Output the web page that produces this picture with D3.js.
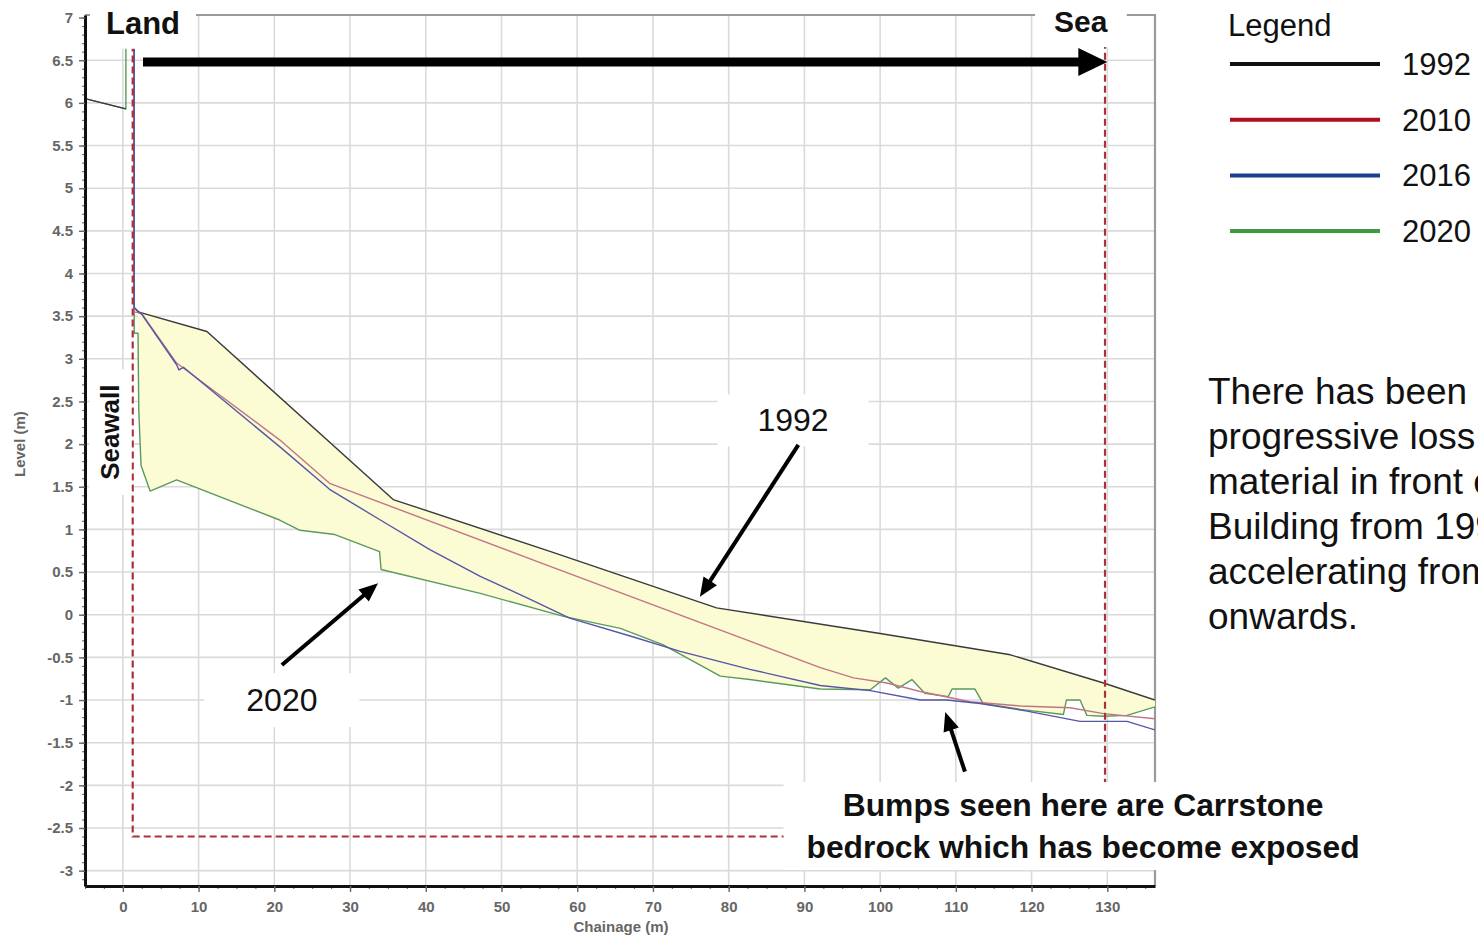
<!DOCTYPE html>
<html>
<head>
<meta charset="utf-8">
<script src="https://cdn.jsdelivr.net/npm/d3@7"></script>
<style>
  html, body { margin: 0; padding: 0; background: #fff; }
  svg { display: block; font-family: Arial, "Liberation Sans", sans-serif; }
</style>
</head>
<body>
<svg id="chart" width="1478" height="937"></svg>
<script>
// Beach profile surveys: [chainage (m), level (m)]; null marks a gap in a survey line
const years = ["1992", "2010", "2016", "2020"];

const profile1992 = [[-5, 6.05], [0.4, 5.93], null,
  [1.5, 7.2], [1.5, 3.6], [2.0, 3.55], [11.1, 3.32], [35.7, 1.35], [56.5, 0.74],
  [78.4, 0.08], [100, -0.22], [117.2, -0.47], [129.5, -0.80], [136.3, -1.0]];

const profile2010 = [[1.5, 7.2], [1.5, 3.55], [2.5, 3.53], [7.1, 2.95], [20.7, 2.05],
  [27.3, 1.54], [55.1, 0.61], [82.8, -0.31], [92.1, -0.62], [96.5, -0.74],
  [100.9, -0.80], [105.3, -0.90], [111.9, -1.02], [118.5, -1.07], [125.1, -1.09],
  [129.5, -1.16], [136.3, -1.22]];

const profile2016 = [[1.5, 7.2], [1.5, 3.6], [2.5, 3.52], [7.1, 2.93], [7.4, 2.87],
  [8.0, 2.9], [20.7, 1.97], [27.3, 1.47], [34, 1.11], [40.6, 0.76], [47.2, 0.45],
  [53.8, 0.18], [59, -0.04], [67, -0.25], [73.6, -0.43], [82.8, -0.64], [92.1, -0.83],
  [98.7, -0.89], [105.3, -1.0], [108.8, -1.0], [113.2, -1.04], [119.4, -1.13],
  [126.4, -1.25], [132.6, -1.25], [136.3, -1.35]];

const profile2020 = [[-5, 6.05], [0.4, 5.93], [0.4, 7.2], [1.5, 7.2], [1.5, 3.3],
  [2.0, 3.3], [2.1, 2.4], [2.4, 1.75], [3.6, 1.45], [7.1, 1.58], [20.7, 1.11],
  [23.4, 0.99], [28, 0.94], [33.9, 0.74], [34.1, 0.53], [47.2, 0.25], [58.2, -0.02],
  [65.7, -0.16], [71.3, -0.35], [78.9, -0.72], [82.8, -0.76], [92.1, -0.87],
  [98.7, -0.88], [100.7, -0.74], [102.4, -0.86], [104.2, -0.76], [105.9, -0.92],
  [109, -0.96], [109.5, -0.87], [112.5, -0.87], [113.6, -1.04], [118.5, -1.11],
  [124.2, -1.17], [124.6, -1.0], [126.4, -1.0], [127.3, -1.18], [129.5, -1.19],
  [132.6, -1.18], [136.3, -1.08]];

// Seawall line and seaward survey limit (dashed outline)
const surveyLimit = [[1.3, 7.2], [1.3, -2.6], [129.7, -2.6], [129.7, 7.2]];

// Axis ticks
const xTickValues = [0, 10, 20, 30, 40, 50, 60, 70, 80, 90, 100, 110, 120, 130];
const yTickValues = [-3, -2.5, -2, -1.5, -1, -0.5, 0, 0.5, 1, 1.5, 2, 2.5, 3, 3.5,
  4, 4.5, 5, 5.5, 6, 6.5, 7];

// Paragraph on the right (runs past the page edge)
const noteLines = ["There has been", "progressive loss", "material in front of",
  "Building from 1992", "accelerating from", "onwards."];

const lineColors = { "1992": "#3a3a3a", "2010": "#c27486", "2016": "#5656a6", "2020": "#5c995c" };
const legendColors = { "1992": "#101010", "2010": "#b00d1e", "2016": "#1d3e8c", "2020": "#3f9a3f" };

const svg = d3.select("#chart");
const x = d3.scaleLinear().domain([-5, 136.3]).range([85, 1155]);
const y = d3.scaleLinear().domain([-3.18, 7.03]).range([886, 15]);
const [X0, X1] = x.range();
const [Y1, Y0] = y.range();

svg.append("defs").append("clipPath").attr("id", "plotClip")
  .append("rect").attr("x", X0).attr("y", Y0).attr("width", X1 - X0).attr("height", Y1 - Y0);

// Gridlines
const grid = svg.append("g");
grid.selectAll("line.gx").data(xTickValues).join("line").attr("class", "gx")
  .attr("x1", d => x(d)).attr("x2", d => x(d)).attr("y1", Y0).attr("y2", Y1)
  .attr("stroke", "#dadada").attr("stroke-width", 1.6);
grid.selectAll("line.gy").data(yTickValues.filter(v => v < 7)).join("line").attr("class", "gy")
  .attr("x1", X0).attr("x2", X1).attr("y1", d => y(d)).attr("y2", d => y(d))
  .attr("stroke", "#dadada").attr("stroke-width", 1.6);

// Top and right frame
svg.append("path")
  .attr("d", `M${X0},${Y0}H${X1}V${Y1}`)
  .attr("fill", "none").attr("stroke", "#9a9a9a").attr("stroke-width", 2.2);

const plot = svg.append("g").attr("clip-path", "url(#plotClip)");

// Area lost between the 1992 and 2020 profiles
const toe = 2.0;
const top1992 = profile1992.filter(p => p && p[0] >= toe);
const bottom2020 = profile2020.filter(p => p && p[0] >= toe).slice().reverse();
const poly = d3.line().x(d => x(d[0])).y(d => y(d[1]));
plot.append("path")
  .attr("d", poly(top1992.concat(bottom2020)) + "Z")
  .attr("fill", "#fbfbd4").attr("stroke", "none");

// Survey lines
const line = d3.line().defined(d => d != null).x(d => x(d[0])).y(d => y(d[1]));
const drawOrder = [["2020", profile2020], ["1992", profile1992], ["2010", profile2010], ["2016", profile2016]];
plot.selectAll("path.profile").data(drawOrder).join("path").attr("class", "profile")
  .attr("d", d => line(d[1]))
  .attr("fill", "none")
  .attr("stroke", d => lineColors[d[0]])
  .attr("stroke-width", 1.4)
  .attr("stroke-linejoin", "round");

// Dashed seawall / survey limit
plot.append("path")
  .attr("d", line(surveyLimit))
  .attr("fill", "none").attr("stroke", "#ad3039").attr("stroke-width", 2.2)
  .attr("stroke-dasharray", "7,4");

// Arrows
function arrow(g, from, to, width, headLen, headHalf) {
  const x1 = x(from[0]), y1 = y(from[1]), x2 = x(to[0]), y2 = y(to[1]);
  const len = Math.hypot(x2 - x1, y2 - y1);
  const ux = (x2 - x1) / len, uy = (y2 - y1) / len;
  const bx = x2 - ux * headLen, by = y2 - uy * headLen;
  g.append("line").attr("x1", x1).attr("y1", y1).attr("x2", bx + ux).attr("y2", by + uy)
    .attr("stroke", "#000").attr("stroke-width", width);
  g.append("path")
    .attr("d", `M${x2},${y2}L${bx - uy * headHalf},${by + ux * headHalf}L${bx + uy * headHalf},${by - ux * headHalf}Z`)
    .attr("fill", "#000");
}

// Label with a white backing box
function label(opts) {
  const g = svg.append("g")
    .attr("transform", `translate(${x(opts.at[0])},${y(opts.at[1])})${opts.rotate ? " rotate(-90)" : ""}`);
  const rect = g.append("rect").attr("fill", "#fff");
  const t = g.append("text")
    .attr("text-anchor", "middle")
    .attr("font-size", opts.size)
    .attr("font-weight", opts.bold ? "bold" : "normal")
    .attr("fill", "#111");
  opts.lines.forEach((s, i) => {
    t.append("tspan").attr("x", 0).attr("y", i * opts.lead).text(s);
  });
  const b = t.node().getBBox();
  rect.attr("x", b.x - opts.pad[0]).attr("y", b.y - opts.pad[1])
    .attr("width", b.width + 2 * opts.pad[0]).attr("height", b.height + 2 * opts.pad[1]);
  return g;
}

label({ at: [2.66, 6.81], lines: ["Land"], size: 31, bold: true, lead: 0, pad: [16, 8] });
label({ at: [126.5, 6.83], lines: ["Sea"], size: 30, bold: true, lead: 0, pad: [19, 9] });
label({ at: [-0.45, 2.14], lines: ["Seawall"], size: 26, bold: true, lead: 0, pad: [15, 6], rotate: true });
label({ at: [88.5, 2.15], lines: ["1992"], size: 32, bold: false, lead: 0, pad: [40, 8] });
label({ at: [21.0, -1.13], lines: ["2020"], size: 32, bold: false, lead: 0, pad: [42, 9] });
label({ at: [126.8, -2.36], lines: ["Bumps seen here are Carrstone", "bedrock which has become exposed"],
  size: 31.8, bold: true, lead: 42, pad: [23, 5] });

const arrows = svg.append("g");
arrow(arrows, [2.66, 6.48], [130.0, 6.48], 9, 29, 14);
arrow(arrows, [89.2, 1.99], [76.2, 0.21], 4, 19, 8);
arrow(arrows, [21.0, -0.59], [33.7, 0.37], 4, 19, 8);
arrow(arrows, [111.2, -1.84], [108.6, -1.14], 4, 19, 8);

// Axes
const yMinor = d3.range(-3.1, 7.001, 0.1);
const xMinor = d3.range(-5, 136, 2.5);

const yAxisMinor = svg.append("g").attr("transform", `translate(${X0},0)`)
  .call(d3.axisLeft(y).tickValues(yMinor).tickSize(3).tickSizeOuter(0).tickFormat(""));
yAxisMinor.select(".domain").remove();
yAxisMinor.selectAll(".tick line").attr("stroke", "#777").attr("stroke-width", 1.2);

const xAxisMinor = svg.append("g").attr("transform", `translate(0,${Y1})`)
  .call(d3.axisBottom(x).tickValues(xMinor).tickSize(3).tickSizeOuter(0).tickFormat(""));
xAxisMinor.select(".domain").remove();
xAxisMinor.selectAll(".tick line").attr("stroke", "#777").attr("stroke-width", 1.2);

const yAxis = svg.append("g").attr("transform", `translate(${X0},0)`)
  .call(d3.axisLeft(y).tickValues(yTickValues).tickFormat(d => String(d))
    .tickSize(6).tickSizeOuter(0).tickPadding(6));
const xAxis = svg.append("g").attr("transform", `translate(0,${Y1})`)
  .call(d3.axisBottom(x).tickValues(xTickValues).tickFormat(d => String(d))
    .tickSize(6).tickSizeOuter(0).tickPadding(9));
[yAxis, xAxis].forEach(a => {
  a.attr("font-family", "Arial, 'Liberation Sans', sans-serif").attr("font-size", 15);
  a.select(".domain").attr("stroke", "#111").attr("stroke-width", 3);
  a.selectAll(".tick line").attr("stroke", "#666").attr("stroke-width", 1.4);
  a.selectAll(".tick text").attr("fill", "#666").attr("font-weight", "bold");
});

svg.append("text").attr("x", (X0 + X1) / 2 + 1).attr("y", 932)
  .attr("text-anchor", "middle").attr("font-size", 15).attr("font-weight", "bold")
  .attr("fill", "#666").text("Chainage (m)");
svg.append("text").attr("transform", `translate(25,${y(2.0)}) rotate(-90)`)
  .attr("text-anchor", "middle").attr("font-size", 15).attr("font-weight", "bold")
  .attr("fill", "#666").text("Level (m)");

// Legend
const legend = svg.append("g").attr("transform", "translate(1228,0)");
legend.append("text").attr("x", 0).attr("y", 36).attr("font-size", 31).attr("fill", "#111").text("Legend");
const rows = legend.selectAll("g.row").data(years).join("g").attr("class", "row")
  .attr("transform", (d, i) => `translate(0,${64 + i * 55.7})`);
rows.append("line").attr("x1", 2).attr("x2", 152).attr("y1", 0).attr("y2", 0)
  .attr("stroke", d => legendColors[d]).attr("stroke-width", 4);
rows.append("text").attr("x", 174).attr("y", 11).attr("font-size", 31).attr("fill", "#111").text(d => d);

// Note
const note = svg.append("text").attr("font-size", 37).attr("fill", "#111");
noteLines.forEach((s, i) => note.append("tspan").attr("x", 1208).attr("y", 404 + i * 45).text(s));
</script>
</body>
</html>
